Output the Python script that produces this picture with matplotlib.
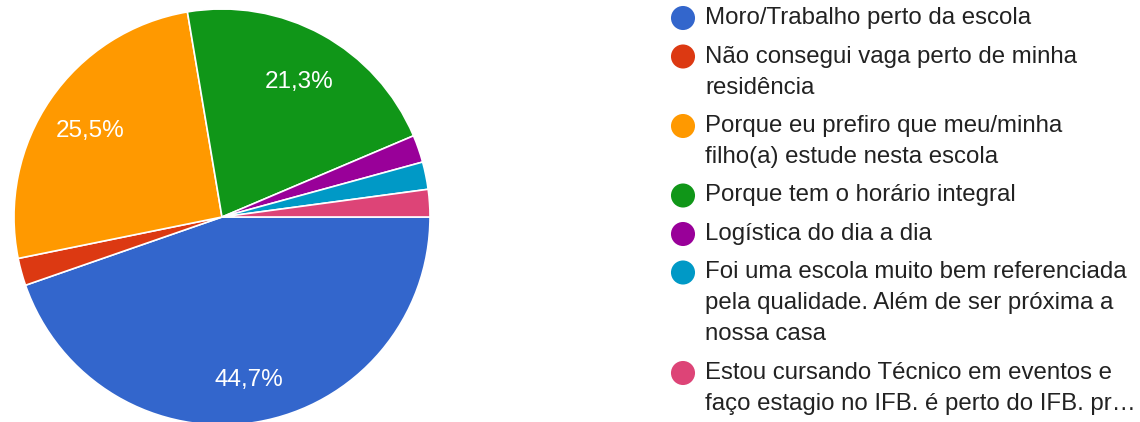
# Pie chart of reasons for choosing the school (Google Forms style)

import matplotlib.pyplot as plt
from matplotlib import rcParams

rcParams['font.family'] = ['Liberation Sans', 'DejaVu Sans']

labels = [
    'Moro/Trabalho perto da escola',
    'Não consegui vaga perto de minha\nresidência',
    'Porque eu prefiro que meu/minha\nfilho(a) estude nesta escola',
    'Porque tem o horário integral',
    'Logística do dia a dia',
    'Foi uma escola muito bem referenciada\npela qualidade. Além de ser próxima a\nnossa casa',
    'Estou cursando Técnico em eventos e\nfaço estagio no IFB. é perto do IFB. pr…',
]
counts = [21, 1, 12, 10, 1, 1, 1]
colors = ['#3366cc', '#dc3912', '#ff9900', '#109618', '#990099', '#0099c6', '#dd4477']

W, H = 1140, 422
fig = plt.figure(figsize=(W / 100, H / 100), dpi=100)

# pie axes, data units = pixels (y up)
ax = fig.add_axes([0, 0, 1, 1])


def pct_label(p):
    if p < 5:
        return ''
    return ('%.1f%%' % p).replace('.', ',')


wedges, texts, autotexts = ax.pie(
    counts, colors=colors, startangle=0, counterclock=False,
    center=(222, H - 217), radius=208, autopct=pct_label, pctdistance=0.77,
    wedgeprops=dict(edgecolor='white', linewidth=1.2),
    textprops=dict(color='white', fontsize=17.5))
# google draws the labels a little lower than the wedge centroid
for t in autotexts:
    x, y = t.get_position()
    t.set_position((x, y - 5))
ax.set_xlim(0, W)
ax.set_ylim(0, H)
ax.axis('off')

# legend drawn by hand, y down in pixels
lax = fig.add_axes([0, 0, 1, 1])
lax.set_xlim(0, W)
lax.set_ylim(H, 0)
lax.axis('off')

y = 18
line_h = 31
gap = 7.5
for lab, col in zip(labels, colors):
    lax.scatter([683], [y], s=300, color=col, edgecolors='none', zorder=3)
    for k, line in enumerate(lab.split('\n')):
        lax.text(705, y + k * line_h, line, va='center', ha='left',
                 fontsize=17.3, color='#222222')
    y += len(lab.split('\n')) * line_h + gap

fig.savefig('out.png', dpi=100)
